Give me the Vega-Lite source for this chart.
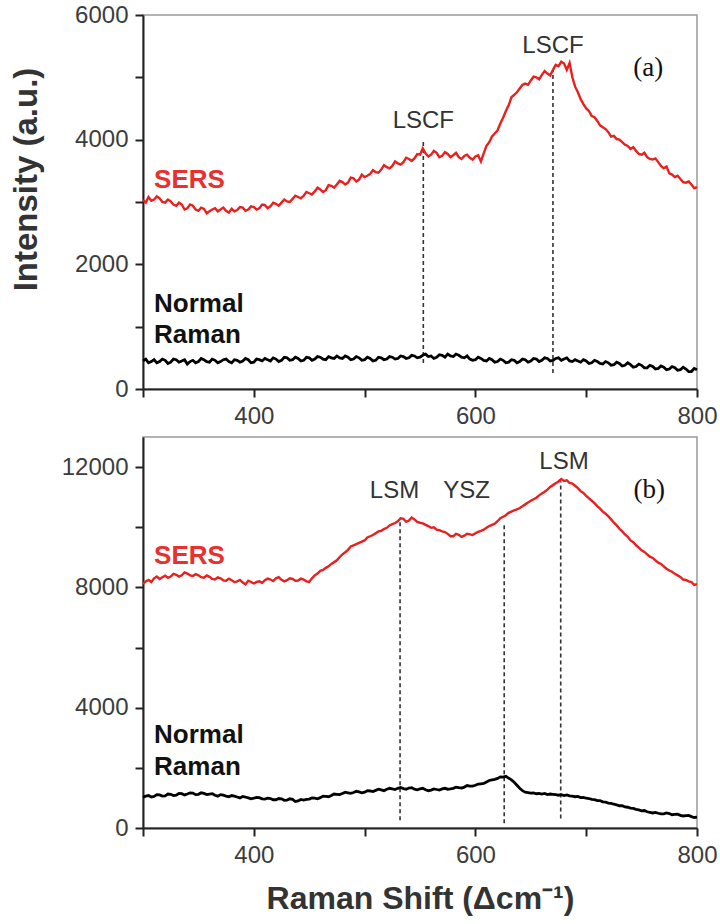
{
 "$schema": "https://vega.github.io/schema/vega-lite/v6.json",
 "background": "white",
 "padding": {"left": 9, "top": 2, "right": 2, "bottom": 2},
 "spacing": 48,
 "bounds": "flush",
 "resolve": {"scale": {"x": "independent", "y": "independent"}},
 "config": {
  "font": "Liberation Sans",
  "view": {"stroke": "#9a9a9a", "strokeWidth": 1.5},
  "axis": {"domainColor": "#222", "domainWidth": 2, "tickColor": "#222", "tickWidth": 2, "tickSize": 8, "labelFont": "Liberation Sans", "labelFontSize": 24, "labelColor": "#3c3c3c", "labelPadding": 7, "grid": false, "titleFont": "Liberation Sans", "titleFontSize": 32, "titleFontWeight": "bold", "titleColor": "#333", "labelFlush": false, "labelOverlap": false}
 },
 "datasets": {
  "aS": [{"x":300,"y":3030},{"x":302.5,"y":2990},{"x":305,"y":3080},{"x":307.5,"y":3020},{"x":310,"y":3040},{"x":312.5,"y":3090},{"x":315,"y":3060},{"x":317.5,"y":3000},{"x":320,"y":2990},{"x":322.5,"y":3040},{"x":325,"y":3010},{"x":327.5,"y":2960},{"x":330,"y":2940},{"x":332.5,"y":2990},{"x":335,"y":2960},{"x":337.5,"y":2880},{"x":340,"y":2900},{"x":342.5,"y":2960},{"x":345,"y":2940},{"x":347.5,"y":2880},{"x":350,"y":2860},{"x":352.5,"y":2910},{"x":355,"y":2890},{"x":357.5,"y":2820},{"x":360,"y":2850},{"x":362.5,"y":2880},{"x":365,"y":2900},{"x":367.5,"y":2850},{"x":370,"y":2880},{"x":372.5,"y":2910},{"x":375,"y":2860},{"x":377.5,"y":2830},{"x":380,"y":2890},{"x":382.5,"y":2850},{"x":385,"y":2870},{"x":387.5,"y":2920},{"x":390,"y":2910},{"x":392.5,"y":2860},{"x":395,"y":2880},{"x":397.5,"y":2930},{"x":400,"y":2920},{"x":402.5,"y":2880},{"x":405,"y":2900},{"x":407.5,"y":2960},{"x":410,"y":2950},{"x":412.5,"y":2900},{"x":415,"y":2930},{"x":417.5,"y":2990},{"x":420,"y":2970},{"x":422.5,"y":2940},{"x":425,"y":2990},{"x":427.5,"y":3040},{"x":430,"y":3010},{"x":432.5,"y":3000},{"x":435,"y":3050},{"x":437.5,"y":3100},{"x":440,"y":3080},{"x":442.5,"y":3060},{"x":445,"y":3100},{"x":447.5,"y":3160},{"x":450,"y":3140},{"x":452.5,"y":3120},{"x":455,"y":3170},{"x":457.5,"y":3230},{"x":460,"y":3200},{"x":462.5,"y":3160},{"x":465,"y":3190},{"x":467.5,"y":3270},{"x":470,"y":3260},{"x":472.5,"y":3230},{"x":475,"y":3280},{"x":477.5,"y":3340},{"x":480,"y":3320},{"x":482.5,"y":3280},{"x":485,"y":3310},{"x":487.5,"y":3390},{"x":490,"y":3380},{"x":492.5,"y":3330},{"x":495,"y":3360},{"x":497.5,"y":3440},{"x":500,"y":3400},{"x":502.5,"y":3420},{"x":505,"y":3450},{"x":507.5,"y":3510},{"x":510,"y":3480},{"x":512.5,"y":3470},{"x":515,"y":3520},{"x":517.5,"y":3590},{"x":520,"y":3560},{"x":522.5,"y":3540},{"x":525,"y":3580},{"x":527.5,"y":3650},{"x":530,"y":3620},{"x":532.5,"y":3600},{"x":535,"y":3640},{"x":537.5,"y":3710},{"x":540,"y":3690},{"x":542.5,"y":3660},{"x":545,"y":3700},{"x":547.5,"y":3770},{"x":550,"y":3760},{"x":552.5,"y":3860},{"x":555,"y":3780},{"x":557.5,"y":3730},{"x":560,"y":3760},{"x":562.5,"y":3820},{"x":565,"y":3790},{"x":567.5,"y":3720},{"x":570,"y":3740},{"x":572.5,"y":3800},{"x":575,"y":3770},{"x":577.5,"y":3720},{"x":580,"y":3750},{"x":582.5,"y":3790},{"x":585,"y":3720},{"x":587.5,"y":3690},{"x":590,"y":3740},{"x":592.5,"y":3760},{"x":595,"y":3710},{"x":597.5,"y":3680},{"x":600,"y":3730},{"x":602.5,"y":3750},{"x":605,"y":3650},{"x":607.5,"y":3780},{"x":610,"y":3900},{"x":612.5,"y":3960},{"x":615,"y":4050},{"x":617.5,"y":4100},{"x":620,"y":4150},{"x":622.5,"y":4260},{"x":625,"y":4350},{"x":627.5,"y":4460},{"x":630,"y":4550},{"x":632.5,"y":4680},{"x":635,"y":4720},{"x":637.5,"y":4760},{"x":640,"y":4820},{"x":642.5,"y":4880},{"x":645,"y":4900},{"x":647.5,"y":4880},{"x":650,"y":4950},{"x":652.5,"y":5010},{"x":655,"y":5000},{"x":657.5,"y":4970},{"x":660,"y":5040},{"x":662.5,"y":5100},{"x":665,"y":5060},{"x":667.5,"y":5030},{"x":670,"y":5120},{"x":672.5,"y":5200},{"x":675,"y":5180},{"x":677.5,"y":5250},{"x":680,"y":5220},{"x":682.5,"y":5120},{"x":685,"y":5230},{"x":687.5,"y":5000},{"x":690,"y":4850},{"x":692.5,"y":4760},{"x":695,"y":4650},{"x":697.5,"y":4570},{"x":700,"y":4500},{"x":702.5,"y":4460},{"x":705,"y":4380},{"x":707.5,"y":4360},{"x":710,"y":4300},{"x":712.5,"y":4230},{"x":715,"y":4200},{"x":717.5,"y":4170},{"x":720,"y":4120},{"x":722.5,"y":4050},{"x":725,"y":4060},{"x":727.5,"y":4010},{"x":730,"y":4000},{"x":732.5,"y":3960},{"x":735,"y":3920},{"x":737.5,"y":3900},{"x":740,"y":3850},{"x":742.5,"y":3880},{"x":745,"y":3820},{"x":747.5,"y":3770},{"x":750,"y":3760},{"x":752.5,"y":3790},{"x":755,"y":3720},{"x":757.5,"y":3690},{"x":760,"y":3680},{"x":762.5,"y":3700},{"x":765,"y":3640},{"x":767.5,"y":3580},{"x":770,"y":3540},{"x":772.5,"y":3570},{"x":775,"y":3460},{"x":777.5,"y":3440},{"x":780,"y":3400},{"x":782.5,"y":3420},{"x":785,"y":3370},{"x":787.5,"y":3320},{"x":790,"y":3310},{"x":792.5,"y":3330},{"x":795,"y":3280},{"x":797.5,"y":3220},{"x":800,"y":3240}],
  "aN": [{"x":300,"y":450},{"x":302.5,"y":480},{"x":305,"y":420},{"x":307.5,"y":440},{"x":310,"y":470},{"x":312.5,"y":420},{"x":315,"y":440},{"x":317.5,"y":480},{"x":320,"y":460},{"x":322.5,"y":410},{"x":325,"y":430},{"x":327.5,"y":480},{"x":330,"y":470},{"x":332.5,"y":430},{"x":335,"y":450},{"x":337.5,"y":470},{"x":340,"y":400},{"x":342.5,"y":440},{"x":345,"y":460},{"x":347.5,"y":420},{"x":350,"y":440},{"x":352.5,"y":490},{"x":355,"y":470},{"x":357.5,"y":440},{"x":360,"y":430},{"x":362.5,"y":480},{"x":365,"y":460},{"x":367.5,"y":420},{"x":370,"y":440},{"x":372.5,"y":470},{"x":375,"y":480},{"x":377.5,"y":440},{"x":380,"y":420},{"x":382.5,"y":470},{"x":385,"y":460},{"x":387.5,"y":430},{"x":390,"y":450},{"x":392.5,"y":490},{"x":395,"y":470},{"x":397.5,"y":420},{"x":400,"y":430},{"x":402.5,"y":480},{"x":405,"y":470},{"x":407.5,"y":450},{"x":410,"y":490},{"x":412.5,"y":470},{"x":415,"y":450},{"x":417.5,"y":500},{"x":420,"y":480},{"x":422.5,"y":440},{"x":425,"y":460},{"x":427.5,"y":510},{"x":430,"y":500},{"x":432.5,"y":460},{"x":435,"y":470},{"x":437.5,"y":510},{"x":440,"y":490},{"x":442.5,"y":450},{"x":445,"y":460},{"x":447.5,"y":510},{"x":450,"y":500},{"x":452.5,"y":460},{"x":455,"y":480},{"x":457.5,"y":520},{"x":460,"y":510},{"x":462.5,"y":480},{"x":465,"y":470},{"x":467.5,"y":520},{"x":470,"y":500},{"x":472.5,"y":490},{"x":475,"y":530},{"x":477.5,"y":500},{"x":480,"y":490},{"x":482.5,"y":530},{"x":485,"y":510},{"x":487.5,"y":470},{"x":490,"y":480},{"x":492.5,"y":520},{"x":495,"y":500},{"x":497.5,"y":460},{"x":500,"y":470},{"x":502.5,"y":510},{"x":505,"y":490},{"x":507.5,"y":450},{"x":510,"y":460},{"x":512.5,"y":510},{"x":515,"y":500},{"x":517.5,"y":470},{"x":520,"y":480},{"x":522.5,"y":520},{"x":525,"y":510},{"x":527.5,"y":480},{"x":530,"y":490},{"x":532.5,"y":530},{"x":535,"y":520},{"x":537.5,"y":490},{"x":540,"y":500},{"x":542.5,"y":540},{"x":545,"y":530},{"x":547.5,"y":500},{"x":550,"y":510},{"x":552.5,"y":540},{"x":555,"y":560},{"x":557.5,"y":520},{"x":560,"y":530},{"x":562.5,"y":490},{"x":565,"y":510},{"x":567.5,"y":550},{"x":570,"y":540},{"x":572.5,"y":510},{"x":575,"y":560},{"x":577.5,"y":530},{"x":580,"y":520},{"x":582.5,"y":560},{"x":585,"y":540},{"x":587.5,"y":510},{"x":590,"y":500},{"x":592.5,"y":530},{"x":595,"y":480},{"x":597.5,"y":460},{"x":600,"y":470},{"x":602.5,"y":510},{"x":605,"y":490},{"x":607.5,"y":460},{"x":610,"y":450},{"x":612.5,"y":490},{"x":615,"y":470},{"x":617.5,"y":430},{"x":620,"y":440},{"x":622.5,"y":480},{"x":625,"y":460},{"x":627.5,"y":420},{"x":630,"y":430},{"x":632.5,"y":470},{"x":635,"y":460},{"x":637.5,"y":420},{"x":640,"y":440},{"x":642.5,"y":480},{"x":645,"y":470},{"x":647.5,"y":430},{"x":650,"y":450},{"x":652.5,"y":490},{"x":655,"y":480},{"x":657.5,"y":440},{"x":660,"y":460},{"x":662.5,"y":500},{"x":665,"y":490},{"x":667.5,"y":450},{"x":670,"y":460},{"x":672.5,"y":490},{"x":675,"y":500},{"x":677.5,"y":460},{"x":680,"y":480},{"x":682.5,"y":500},{"x":685,"y":450},{"x":687.5,"y":440},{"x":690,"y":470},{"x":692.5,"y":450},{"x":695,"y":430},{"x":697.5,"y":470},{"x":700,"y":450},{"x":702.5,"y":410},{"x":705,"y":420},{"x":707.5,"y":460},{"x":710,"y":440},{"x":712.5,"y":410},{"x":715,"y":400},{"x":717.5,"y":440},{"x":720,"y":420},{"x":722.5,"y":380},{"x":725,"y":390},{"x":727.5,"y":430},{"x":730,"y":410},{"x":732.5,"y":370},{"x":735,"y":380},{"x":737.5,"y":420},{"x":740,"y":390},{"x":742.5,"y":350},{"x":745,"y":360},{"x":747.5,"y":400},{"x":750,"y":380},{"x":752.5,"y":340},{"x":755,"y":340},{"x":757.5,"y":380},{"x":760,"y":360},{"x":762.5,"y":320},{"x":765,"y":330},{"x":767.5,"y":370},{"x":770,"y":350},{"x":772.5,"y":310},{"x":775,"y":320},{"x":777.5,"y":360},{"x":780,"y":340},{"x":782.5,"y":300},{"x":785,"y":310},{"x":787.5,"y":350},{"x":790,"y":320},{"x":792.5,"y":280},{"x":795,"y":280},{"x":797.5,"y":330},{"x":800,"y":310}],
  "bS": [{"x":300,"y":8120},{"x":302.5,"y":8200},{"x":305,"y":8250},{"x":307.5,"y":8180},{"x":310,"y":8300},{"x":312.5,"y":8360},{"x":315,"y":8280},{"x":317.5,"y":8340},{"x":320,"y":8390},{"x":322.5,"y":8320},{"x":325,"y":8360},{"x":327.5,"y":8450},{"x":330,"y":8420},{"x":332.5,"y":8360},{"x":335,"y":8400},{"x":337.5,"y":8500},{"x":340,"y":8460},{"x":342.5,"y":8400},{"x":345,"y":8380},{"x":347.5,"y":8440},{"x":350,"y":8400},{"x":352.5,"y":8340},{"x":355,"y":8320},{"x":357.5,"y":8400},{"x":360,"y":8350},{"x":362.5,"y":8280},{"x":365,"y":8260},{"x":367.5,"y":8330},{"x":370,"y":8300},{"x":372.5,"y":8230},{"x":375,"y":8220},{"x":377.5,"y":8290},{"x":380,"y":8240},{"x":382.5,"y":8170},{"x":385,"y":8200},{"x":387.5,"y":8250},{"x":390,"y":8160},{"x":392.5,"y":8100},{"x":395,"y":8220},{"x":397.5,"y":8180},{"x":400,"y":8130},{"x":402.5,"y":8180},{"x":405,"y":8200},{"x":407.5,"y":8150},{"x":410,"y":8240},{"x":412.5,"y":8290},{"x":415,"y":8260},{"x":417.5,"y":8210},{"x":420,"y":8300},{"x":422.5,"y":8340},{"x":425,"y":8250},{"x":427.5,"y":8200},{"x":430,"y":8240},{"x":432.5,"y":8300},{"x":435,"y":8280},{"x":437.5,"y":8220},{"x":440,"y":8230},{"x":442.5,"y":8290},{"x":445,"y":8260},{"x":447.5,"y":8200},{"x":450,"y":8180},{"x":452.5,"y":8300},{"x":455,"y":8400},{"x":457.5,"y":8460},{"x":460,"y":8550},{"x":462.5,"y":8580},{"x":465,"y":8650},{"x":467.5,"y":8700},{"x":470,"y":8780},{"x":472.5,"y":8840},{"x":475,"y":8900},{"x":477.5,"y":9010},{"x":480,"y":9100},{"x":482.5,"y":9170},{"x":485,"y":9250},{"x":487.5,"y":9360},{"x":490,"y":9400},{"x":492.5,"y":9440},{"x":495,"y":9480},{"x":497.5,"y":9520},{"x":500,"y":9560},{"x":502.5,"y":9660},{"x":505,"y":9700},{"x":507.5,"y":9740},{"x":510,"y":9800},{"x":512.5,"y":9860},{"x":515,"y":9880},{"x":517.5,"y":9940},{"x":520,"y":9980},{"x":522.5,"y":10060},{"x":525,"y":10100},{"x":527.5,"y":10140},{"x":530,"y":10200},{"x":532.5,"y":10300},{"x":535,"y":10280},{"x":537.5,"y":10180},{"x":540,"y":10220},{"x":542.5,"y":10320},{"x":545,"y":10260},{"x":547.5,"y":10180},{"x":550,"y":10150},{"x":552.5,"y":10130},{"x":555,"y":10080},{"x":557.5,"y":10040},{"x":560,"y":9980},{"x":562.5,"y":10000},{"x":565,"y":9920},{"x":567.5,"y":9900},{"x":570,"y":9860},{"x":572.5,"y":9840},{"x":575,"y":9780},{"x":577.5,"y":9700},{"x":580,"y":9700},{"x":582.5,"y":9780},{"x":585,"y":9750},{"x":587.5,"y":9680},{"x":590,"y":9720},{"x":592.5,"y":9780},{"x":595,"y":9760},{"x":597.5,"y":9740},{"x":600,"y":9800},{"x":602.5,"y":9850},{"x":605,"y":9880},{"x":607.5,"y":9920},{"x":610,"y":9980},{"x":612.5,"y":10040},{"x":615,"y":10080},{"x":617.5,"y":10120},{"x":620,"y":10200},{"x":622.5,"y":10300},{"x":625,"y":10350},{"x":627.5,"y":10400},{"x":630,"y":10480},{"x":632.5,"y":10520},{"x":635,"y":10560},{"x":637.5,"y":10590},{"x":640,"y":10640},{"x":642.5,"y":10700},{"x":645,"y":10760},{"x":647.5,"y":10820},{"x":650,"y":10880},{"x":652.5,"y":10930},{"x":655,"y":10980},{"x":657.5,"y":11060},{"x":660,"y":11120},{"x":662.5,"y":11180},{"x":665,"y":11250},{"x":667.5,"y":11340},{"x":670,"y":11400},{"x":672.5,"y":11460},{"x":675,"y":11520},{"x":677.5,"y":11600},{"x":680,"y":11540},{"x":682.5,"y":11560},{"x":685,"y":11470},{"x":687.5,"y":11450},{"x":690,"y":11380},{"x":692.5,"y":11300},{"x":695,"y":11200},{"x":697.5,"y":11140},{"x":700,"y":11040},{"x":702.5,"y":10960},{"x":705,"y":10880},{"x":707.5,"y":10800},{"x":710,"y":10700},{"x":712.5,"y":10620},{"x":715,"y":10520},{"x":717.5,"y":10450},{"x":720,"y":10360},{"x":722.5,"y":10260},{"x":725,"y":10150},{"x":727.5,"y":10060},{"x":730,"y":9950},{"x":732.5,"y":9860},{"x":735,"y":9760},{"x":737.5,"y":9680},{"x":740,"y":9560},{"x":742.5,"y":9500},{"x":745,"y":9400},{"x":747.5,"y":9320},{"x":750,"y":9230},{"x":752.5,"y":9180},{"x":755,"y":9100},{"x":757.5,"y":9020},{"x":760,"y":8980},{"x":762.5,"y":8900},{"x":765,"y":8820},{"x":767.5,"y":8780},{"x":770,"y":8700},{"x":772.5,"y":8620},{"x":775,"y":8560},{"x":777.5,"y":8520},{"x":780,"y":8450},{"x":782.5,"y":8400},{"x":785,"y":8350},{"x":787.5,"y":8260},{"x":790,"y":8250},{"x":792.5,"y":8200},{"x":795,"y":8180},{"x":797.5,"y":8080},{"x":800,"y":8110}],
  "bN": [{"x":300,"y":1020},{"x":302.5,"y":1060},{"x":305,"y":1080},{"x":307.5,"y":1030},{"x":310,"y":1050},{"x":312.5,"y":1110},{"x":315,"y":1100},{"x":317.5,"y":1060},{"x":320,"y":1070},{"x":322.5,"y":1130},{"x":325,"y":1120},{"x":327.5,"y":1080},{"x":330,"y":1090},{"x":332.5,"y":1150},{"x":335,"y":1140},{"x":337.5,"y":1100},{"x":340,"y":1130},{"x":342.5,"y":1170},{"x":345,"y":1160},{"x":347.5,"y":1110},{"x":350,"y":1120},{"x":352.5,"y":1170},{"x":355,"y":1150},{"x":357.5,"y":1110},{"x":360,"y":1130},{"x":362.5,"y":1140},{"x":365,"y":1090},{"x":367.5,"y":1060},{"x":370,"y":1110},{"x":372.5,"y":1090},{"x":375,"y":1060},{"x":377.5,"y":1040},{"x":380,"y":1080},{"x":382.5,"y":1060},{"x":385,"y":1030},{"x":387.5,"y":1000},{"x":390,"y":1050},{"x":392.5,"y":1030},{"x":395,"y":1000},{"x":397.5,"y":970},{"x":400,"y":990},{"x":402.5,"y":1020},{"x":405,"y":1010},{"x":407.5,"y":970},{"x":410,"y":960},{"x":412.5,"y":990},{"x":415,"y":980},{"x":417.5,"y":940},{"x":420,"y":940},{"x":422.5,"y":980},{"x":425,"y":970},{"x":427.5,"y":920},{"x":430,"y":930},{"x":432.5,"y":970},{"x":435,"y":950},{"x":437.5,"y":880},{"x":440,"y":900},{"x":442.5,"y":950},{"x":445,"y":930},{"x":447.5,"y":950},{"x":450,"y":960},{"x":452.5,"y":1000},{"x":455,"y":990},{"x":457.5,"y":970},{"x":460,"y":1010},{"x":462.5,"y":1060},{"x":465,"y":1050},{"x":467.5,"y":1040},{"x":470,"y":1080},{"x":472.5,"y":1130},{"x":475,"y":1120},{"x":477.5,"y":1110},{"x":480,"y":1150},{"x":482.5,"y":1190},{"x":485,"y":1170},{"x":487.5,"y":1150},{"x":490,"y":1180},{"x":492.5,"y":1220},{"x":495,"y":1200},{"x":497.5,"y":1170},{"x":500,"y":1190},{"x":502.5,"y":1240},{"x":505,"y":1230},{"x":507.5,"y":1210},{"x":510,"y":1250},{"x":512.5,"y":1290},{"x":515,"y":1270},{"x":517.5,"y":1240},{"x":520,"y":1290},{"x":522.5,"y":1320},{"x":525,"y":1300},{"x":527.5,"y":1280},{"x":530,"y":1320},{"x":532.5,"y":1350},{"x":535,"y":1310},{"x":537.5,"y":1290},{"x":540,"y":1330},{"x":542.5,"y":1340},{"x":545,"y":1290},{"x":547.5,"y":1270},{"x":550,"y":1300},{"x":552.5,"y":1320},{"x":555,"y":1270},{"x":557.5,"y":1240},{"x":560,"y":1260},{"x":562.5,"y":1300},{"x":565,"y":1280},{"x":567.5,"y":1260},{"x":570,"y":1300},{"x":572.5,"y":1320},{"x":575,"y":1290},{"x":577.5,"y":1300},{"x":580,"y":1320},{"x":582.5,"y":1360},{"x":585,"y":1340},{"x":587.5,"y":1330},{"x":590,"y":1360},{"x":592.5,"y":1410},{"x":595,"y":1390},{"x":597.5,"y":1390},{"x":600,"y":1420},{"x":602.5,"y":1460},{"x":605,"y":1470},{"x":607.5,"y":1480},{"x":610,"y":1530},{"x":612.5,"y":1580},{"x":615,"y":1600},{"x":617.5,"y":1620},{"x":620,"y":1650},{"x":622.5,"y":1700},{"x":625,"y":1690},{"x":627.5,"y":1720},{"x":630,"y":1660},{"x":632.5,"y":1600},{"x":635,"y":1520},{"x":637.5,"y":1420},{"x":640,"y":1320},{"x":642.5,"y":1240},{"x":645,"y":1190},{"x":647.5,"y":1180},{"x":650,"y":1160},{"x":652.5,"y":1170},{"x":655,"y":1140},{"x":657.5,"y":1150},{"x":660,"y":1130},{"x":662.5,"y":1150},{"x":665,"y":1110},{"x":667.5,"y":1130},{"x":670,"y":1120},{"x":672.5,"y":1110},{"x":675,"y":1090},{"x":677.5,"y":1110},{"x":680,"y":1080},{"x":682.5,"y":1100},{"x":685,"y":1070},{"x":687.5,"y":1060},{"x":690,"y":1040},{"x":692.5,"y":1050},{"x":695,"y":1010},{"x":697.5,"y":1020},{"x":700,"y":990},{"x":702.5,"y":980},{"x":705,"y":950},{"x":707.5,"y":940},{"x":710,"y":910},{"x":712.5,"y":910},{"x":715,"y":870},{"x":717.5,"y":860},{"x":720,"y":830},{"x":722.5,"y":820},{"x":725,"y":790},{"x":727.5,"y":770},{"x":730,"y":740},{"x":732.5,"y":740},{"x":735,"y":700},{"x":737.5,"y":690},{"x":740,"y":660},{"x":742.5,"y":650},{"x":745,"y":620},{"x":747.5,"y":600},{"x":750,"y":570},{"x":752.5,"y":580},{"x":755,"y":540},{"x":757.5,"y":520},{"x":760,"y":500},{"x":762.5,"y":520},{"x":765,"y":490},{"x":767.5,"y":470},{"x":770,"y":470},{"x":772.5,"y":500},{"x":775,"y":480},{"x":777.5,"y":440},{"x":780,"y":450},{"x":782.5,"y":460},{"x":785,"y":420},{"x":787.5,"y":400},{"x":790,"y":410},{"x":792.5,"y":420},{"x":795,"y":380},{"x":797.5,"y":350},{"x":800,"y":360}],
  "aPeaks": [{"x":553,"y":417,"y2":3995,"label":"LSCF","ly":4187},{"x":670,"y":257,"y2":5118,"label":"LSCF","ly":5390}],
  "bPeaks": [{"x":532,"y":255,"y2":10270,"label":"LSM","ly":10970,"lx":527},{"x":626,"y":155,"y2":10150,"label":"YSZ","ly":10970,"lx":592},{"x":677,"y":320,"y2":11530,"label":"LSM","ly":11930,"lx":680}],
  "aSeries": [{"text":"SERS","series":"SERS","x":310,"y":3225},{"text":"Normal","series":"Normal Raman","x":310,"y":1235},{"text":"Raman","series":"Normal Raman","x":310,"y":738}],
  "bSeries": [{"text":"SERS","series":"SERS","x":310,"y":8785},{"text":"Normal","series":"Normal Raman","x":310,"y":2810},{"text":"Raman","series":"Normal Raman","x":310,"y":1750}],
  "aTag": [{"text":"(a)","x":756,"y":5020}],
  "bTag": [{"text":"(b)","x":757,"y":10970}]
 },
 "vconcat": [
  {
   "width": 554, "height": 374,
   "encoding": {
    "x": {"field": "x", "type": "quantitative", "scale": {"domain": [300, 800], "nice": false, "zero": false},
          "axis": {"title": null, "values": [300, 400, 500, 600, 700, 800], "labelExpr": "datum.value % 200 == 0 ? datum.label : ''"}},
    "y": {"field": "y", "type": "quantitative", "scale": {"domain": [0, 6000], "nice": false},
          "axis": {"title": "Intensity (a.u.)", "titleFontSize": 33, "titleY": 164, "titlePadding": 31, "format": "d", "values": [0, 1000, 2000, 3000, 4000, 5000, 6000], "labelExpr": "datum.value % 2000 == 0 ? datum.label : ''"}}
   },
   "layer": [
    {"data": {"name": "aPeaks"}, "mark": {"type": "rule", "color": "#333", "strokeWidth": 1.6, "strokeDash": [4, 3]}, "encoding": {"y2": {"field": "y2"}}},
    {"data": {"name": "aN"}, "mark": {"type": "line", "color": "#000", "strokeWidth": 2.8}},
    {"data": {"name": "aS"}, "mark": {"type": "line", "color": "#e8201e", "strokeWidth": 2.4}},
    {"data": {"name": "aPeaks"}, "mark": {"type": "text", "font": "Liberation Sans", "fontSize": 24, "color": "#333", "align": "center", "baseline": "alphabetic"}, "encoding": {"y": {"field": "ly", "type": "quantitative"}, "text": {"field": "label"}}},
    {"data": {"name": "aSeries"}, "mark": {"type": "text", "font": "Liberation Sans", "fontSize": 26, "fontWeight": "bold", "align": "left", "baseline": "alphabetic"},
     "encoding": {"text": {"field": "text"}, "color": {"field": "series", "type": "nominal", "scale": {"domain": ["SERS", "Normal Raman"], "range": ["#e8302e", "#111"]}, "legend": null}}},
    {"data": {"name": "aTag"}, "mark": {"type": "text", "font": "Liberation Serif", "fontSize": 27, "color": "#111", "align": "center", "baseline": "alphabetic"}, "encoding": {"text": {"field": "text"}}}
   ]
  },
  {
   "width": 554, "height": 391,
   "encoding": {
    "x": {"field": "x", "type": "quantitative", "scale": {"domain": [300, 800], "nice": false, "zero": false},
          "axis": {"title": "Raman Shift (Δcm⁻¹)", "titlePadding": 16, "values": [300, 400, 500, 600, 700, 800], "labelExpr": "datum.value % 200 == 0 ? datum.label : ''"}},
    "y": {"field": "y", "type": "quantitative", "scale": {"domain": [0, 13000], "nice": false},
          "axis": {"title": null, "format": "d", "values": [0, 2000, 4000, 6000, 8000, 10000, 12000], "labelExpr": "datum.value % 4000 == 0 ? datum.label : ''"}}
   },
   "layer": [
    {"data": {"name": "bPeaks"}, "mark": {"type": "rule", "color": "#333", "strokeWidth": 1.6, "strokeDash": [4, 3]}, "encoding": {"y2": {"field": "y2"}}},
    {"data": {"name": "bN"}, "mark": {"type": "line", "color": "#000", "strokeWidth": 2.8}},
    {"data": {"name": "bS"}, "mark": {"type": "line", "color": "#e8201e", "strokeWidth": 2.4}},
    {"data": {"name": "bPeaks"}, "mark": {"type": "text", "font": "Liberation Sans", "fontSize": 24, "color": "#333", "align": "center", "baseline": "alphabetic"}, "encoding": {"x": {"field": "lx", "type": "quantitative"}, "y": {"field": "ly", "type": "quantitative"}, "text": {"field": "label"}}},
    {"data": {"name": "bSeries"}, "mark": {"type": "text", "font": "Liberation Sans", "fontSize": 26, "fontWeight": "bold", "align": "left", "baseline": "alphabetic"},
     "encoding": {"text": {"field": "text"}, "color": {"field": "series", "type": "nominal", "scale": {"domain": ["SERS", "Normal Raman"], "range": ["#e8302e", "#111"]}, "legend": null}}},
    {"data": {"name": "bTag"}, "mark": {"type": "text", "font": "Liberation Serif", "fontSize": 27, "color": "#111", "align": "center", "baseline": "alphabetic"}, "encoding": {"text": {"field": "text"}}}
   ]
  }
 ]
}
